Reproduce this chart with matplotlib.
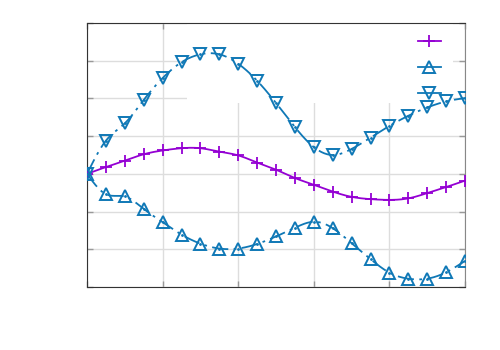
import numpy as np
import matplotlib
matplotlib.use("Agg")
import matplotlib.pyplot as plt
from matplotlib.patches import Rectangle
from matplotlib.lines import Line2D

# ---- data ----
x_vals = [0, 0.25, 0.5, 0.75, 1.0, 1.25, 1.5, 1.75, 2.0, 2.25, 2.5,
          2.75, 3.0, 3.25, 3.5, 3.75, 4.0, 4.25, 4.5, 4.75, 5.0]
series_plus = [0, 0.18, 0.35, 0.52, 0.62, 0.68, 0.68, 0.59, 0.49, 0.30, 0.11,
               -0.11, -0.29, -0.47, -0.61, -0.67, -0.69, -0.65, -0.51, -0.35, -0.18]
series_up = [0, -0.54, -0.60, -0.93, -1.28, -1.61, -1.85, -1.98, -1.98, -1.86, -1.66,
             -1.43, -1.27, -1.44, -1.84, -2.26, -2.62, -2.78, -2.78, -2.61, -2.31]
series_down = [0, 0.88, 1.34, 1.96, 2.54, 2.96, 3.17, 3.17, 2.92, 2.47, 1.88,
               1.24, 0.71, 0.50, 0.66, 0.96, 1.27, 1.54, 1.76, 1.92, 2.01]
x_ticks = [0, 1, 2, 3, 4, 5]
y_ticks = [-3, -2, -1, 0, 1, 2, 3, 4]

PURPLE = '#9400d3'
BLUE = '#0f78b6'


def natural_spline(x, y, n=20):
    x = np.asarray(x, float)
    y = np.asarray(y, float)
    m = len(x)
    h = np.diff(x)
    A = np.zeros((m, m))
    r = np.zeros(m)
    A[0, 0] = 1
    A[-1, -1] = 1
    for i in range(1, m - 1):
        A[i, i - 1] = h[i - 1]
        A[i, i] = 2 * (h[i - 1] + h[i])
        A[i, i + 1] = h[i]
        r[i] = 6 * ((y[i + 1] - y[i]) / h[i] - (y[i] - y[i - 1]) / h[i - 1])
    M = np.linalg.solve(A, r)
    xs, ys = [], []
    for i in range(m - 1):
        t = np.linspace(x[i], x[i + 1], n, endpoint=False)
        a = x[i + 1] - t
        b = t - x[i]
        s = (M[i] * a ** 3 + M[i + 1] * b ** 3) / (6 * h[i]) \
            + (y[i] / h[i] - M[i] * h[i] / 6) * a \
            + (y[i + 1] / h[i] - M[i + 1] * h[i] / 6) * b
        xs.extend(t)
        ys.extend(s)
    xs.append(x[-1])
    ys.append(y[-1])
    return np.array(xs), np.array(ys)


fig = plt.figure(figsize=(5, 3.5), dpi=100)
ax = fig.add_axes([87 / 500, 1 - 287 / 350, (465 - 87) / 500, (287 - 23) / 350])
ax.set_xlim(0, 5)
ax.set_ylim(-3, 4)
ax.set_xticks(x_ticks)
ax.set_yticks(y_ticks)
ax.set_xticklabels([])
ax.set_yticklabels([])
ax.set_axisbelow(True)
ax.grid(True, color='#dddddd', linewidth=1)
ax.tick_params(direction='in', length=4, width=1, color='#999999',
               top=True, right=True)
for side in ['left', 'bottom', 'top']:
    ax.spines[side].set_color('#333333')
ax.spines['right'].set_color('#888888')

# opaque key region that hides part of the grid
ax.add_patch(Rectangle((1.32, 1.88), 3.52, 2.12, transform=ax.transData,
                       facecolor='white', edgecolor='none', zorder=1))

dash = (0, (9, 3, 1.5, 3))

xs, ys = natural_spline(x_vals, series_plus)
ax.plot(xs, ys, color=PURPLE, lw=1.3, zorder=3)
ax.plot(x_vals, series_plus, ls='none', marker='+', ms=9, mew=1.3,
        color=PURPLE, zorder=4)

xs, ys = natural_spline(x_vals, series_up)
ax.plot(xs, ys, color=BLUE, lw=1.3, ls=dash, zorder=3)
ax.plot(x_vals, series_up, ls='none', marker='^', ms=8, mew=1.4,
        mfc='none', color=BLUE, zorder=4)
ax.plot(x_vals, series_up, ls='none', marker='.', ms=2, color=BLUE, zorder=4)

xs, ys = natural_spline(x_vals, series_down)
ax.plot(xs, ys, color=BLUE, lw=1.3, ls=dash, zorder=3)
ax.plot(x_vals, series_down, ls='none', marker='v', ms=8, mew=1.4,
        mfc='none', color=BLUE, zorder=4)
ax.plot(x_vals, series_down, ls='none', marker='.', ms=2, color=BLUE, zorder=4)

handles = [
    Line2D([], [], color=PURPLE, lw=1.3, marker='+', ms=9, mew=1.3),
    Line2D([], [], color=BLUE, lw=1.3, marker='^', ms=8, mew=1.4, mfc='none'),
    Line2D([], [], color=BLUE, lw=1.3, marker='v', ms=8, mew=1.4, mfc='none'),
]
leg = ax.legend(handles, [' ', ' ', ' '], loc='upper left',
                bbox_to_anchor=((418 - 87) / 378, 1 - (35 - 23) / 264),
                frameon=False, handlelength=1.65, handletextpad=0.2,
                labelspacing=0.85, borderaxespad=0, borderpad=0, fontsize=10)

fig.savefig('out.png', dpi=100)
